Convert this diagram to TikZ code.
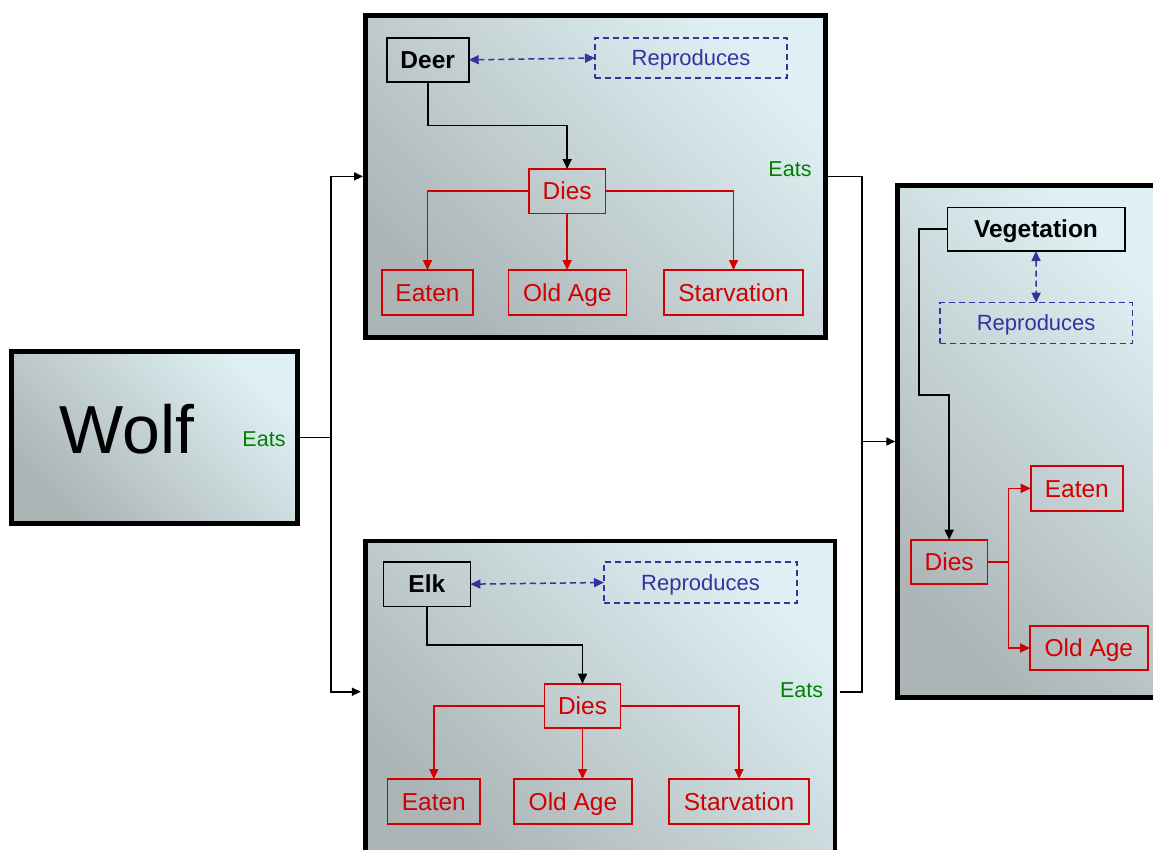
\documentclass[tikz,border=0pt]{standalone}
\usepackage{fontspec}
\setmainfont{Liberation Sans}
\usetikzlibrary{arrows.meta,calc}
\definecolor{redc}{RGB}{210,0,0}
\definecolor{bluec}{RGB}{51,51,160}
\definecolor{greenc}{RGB}{0,128,0}
\definecolor{shadelight}{RGB}{222,240,243}
\definecolor{shadedark}{RGB}{172,180,182}
\begin{document}
\begin{tikzpicture}[x=1pt,y=-1pt,
  bigbox/.style={draw=black, line width=4.5pt, inner sep=0pt, top color=shadelight, bottom color=shadedark, shading angle=-45},
  sbox/.style={draw, line width=1.6pt, inner sep=0pt, outer sep=0pt, text depth=0pt},
  blkbox/.style={sbox, draw=black, text=black, text height=17.5pt, font=\fontsize{24.5}{28}\selectfont\bfseries},
  redbox/.style={sbox, draw=redc, text=redc, text height=17.5pt, font=\fontsize{24.5}{28}\selectfont},
  repbox/.style={sbox, draw=bluec, text=bluec, text height=15.75pt, line width=1.4pt, dash pattern=on 6pt off 4pt, font=\fontsize{22}{26}\selectfont},
  eats/.style={text=greenc, inner sep=0pt, font=\fontsize{21.5}{24}\selectfont},
  conn/.style={draw=black, line width=1.6pt},
  connarr/.style={conn, -{Triangle[length=9pt,width=8pt]}},
  blkarr/.style={draw=black, line width=1.6pt, -{Triangle[length=10pt,width=9pt]}},
  redarr/.style={draw=redc, line width=1.6pt, -{Triangle[length=10pt,width=9pt]}},
  redline/.style={draw=redc, line width=1.6pt},
  bluearr/.style={draw=bluec, line width=1.5pt, dash pattern=on 6pt off 4pt, {Triangle[length=10pt,width=9pt]}-{Triangle[length=10pt,width=9pt]}}
]
\useasboundingbox (0,0) rectangle (1153,849);
\clip (0,0) rectangle (1153,849);

% big boxes
\node[bigbox, minimum width=460pt, minimum height=322.2pt] (deerbox) at (595.3,176.4) {};
\node[bigbox, minimum width=469.7pt, minimum height=314pt] (elkbox) at (600.15,698) {};
\node[bigbox, minimum width=267.5pt, minimum height=512pt] (vegbox) at (1031.25,441.5) {};
\node[bigbox, minimum width=285.8pt, minimum height=171.6pt] (wolfbox) at (154.6,437.5) {};

% Wolf
\node[inner sep=0pt, anchor=base, font=\fontsize{68}{72}\selectfont] (wolf) at (126.7,453.3) {Wolf};
\node[eats, anchor=base east] (eatsw) at (285.7,446) {Eats};

% Deer
\node[blkbox, minimum width=82pt, minimum height=44.3pt] (deer) at (427.7,59.85) {Deer};
\node[repbox, minimum width=192pt, minimum height=40pt] (deerrep) at (691,58) {Reproduces};
\node[redbox, minimum width=76.3pt, minimum height=44.3pt] (deerdies) at (567.15,191.15) {Dies};
\node[redbox, minimum width=91pt, minimum height=45pt] (deereaten) at (427.5,292.5) {Eaten};
\node[redbox, minimum width=118pt, minimum height=45pt] (deerold) at (567.3,292.5) {Old Age};
\node[redbox, minimum width=139pt, minimum height=45pt] (deerstarv) at (733.5,292.5) {Starvation};
\node[eats, anchor=base east] (eatsd) at (811.7,176.7) {Eats};

\draw[bluearr] (deer.east) -- (deerrep.west);
\draw[blkarr] (deer.south) -- ++(0,43.3) -| (deerdies.north);
\draw[redarr] (deerdies.west) -| (deereaten.north);
\draw[redarr] (deerdies.south) -- (deerdies.south |- deerold.north);
\draw[redarr] (deerdies.east) -| (deerstarv.north);

% Elk
\node[blkbox, minimum width=87pt, minimum height=44.3pt] (elk) at (426.8,584.15) {Elk};
\node[repbox, minimum width=193pt, minimum height=41pt] (elkrep) at (700.5,582.5) {Reproduces};
\node[redbox, minimum width=76.3pt, minimum height=44pt] (elkdies) at (582.5,705.7) {Dies};
\node[redbox, minimum width=92.3pt, minimum height=45pt] (elkeaten) at (433.8,801.5) {Eaten};
\node[redbox, minimum width=118pt, minimum height=45pt] (elkold) at (573,801.5) {Old Age};
\node[redbox, minimum width=140pt, minimum height=45pt] (elkstarv) at (739,801.5) {Starvation};
\node[eats, anchor=base east] (eatse) at (823.3,697.7) {Eats};

\draw[bluearr] (elk.east) -- (elkrep.west);
\draw[blkarr] (elk.south) -- ++(0,38.7) -| (elkdies.north);
\draw[redarr] (elkdies.west) -| (elkeaten.north);
\draw[redarr] (elkdies.south) -- (elkdies.south |- elkold.north);
\draw[redarr] (elkdies.east) -| (elkstarv.north);

% Vegetation
\node[blkbox, minimum width=177.4pt, minimum height=43.7pt] (veg) at (1036,229.15) {Vegetation};
\node[repbox, minimum width=192.3pt, minimum height=40.6pt] (vegrep) at (1036.15,323) {Reproduces};
\node[redbox, minimum width=76.3pt, minimum height=44.3pt] (vegdies) at (949.15,561.85) {Dies};
\node[redbox, minimum width=92.3pt, minimum height=44.7pt] (vegeaten) at (1076.85,488.35) {Eaten};
\node[redbox, minimum width=117.7pt, minimum height=44pt] (vegold) at (1088.85,648) {Old Age};

\draw[bluearr] (veg.south) -- (vegrep.north);
\draw[blkarr] (veg.west) -| ++(-28.3,166.1) -| (vegdies.north);
\draw[redline] (vegdies.east) -- ++(21,0) coordinate (vj);
\draw[redarr] (vj) |- (vegeaten.west);
\draw[redarr] (vj) |- (vegold.west);

% outer connectors
\draw[conn] (wolfbox.east) -- ++(31.3,0) coordinate (wj);
\coordinate (elkin) at ($(elkbox.north west)+(-2.25,153)$);
\coordinate (elkout) at ($(elkbox.north east)+(2.25,153)$);
\draw[connarr] (wj) |- (deerbox.west);
\draw[connarr] (wj) |- (elkin);
\coordinate (rj) at (862,441.5);
\draw[conn] (deerbox.east) -| (rj);
\draw[conn] (elkout) -| (rj);
\draw[connarr] (rj) -- (vegbox.west);
\end{tikzpicture}
\end{document}
